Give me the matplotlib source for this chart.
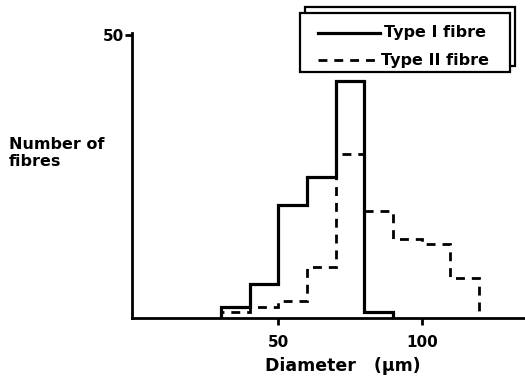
import matplotlib
matplotlib.use("Agg")
import matplotlib.pyplot as plt
from matplotlib.patches import Rectangle
from matplotlib.lines import Line2D

# Data
type1_edges = [30, 40, 50, 60, 70, 80, 90]
type1_counts = [2, 6, 20, 25, 42, 1]
type2_edges = [30, 40, 50, 60, 70, 80, 90, 100, 110, 120]
type2_counts = [1, 2, 3, 9, 29, 19, 14, 13, 7]
xticks = [50, 100]
yticks = [50]
legend_labels = ["Type I fibre", "Type II fibre"]

plt.rcParams['font.family'] = ['DejaVu Sans']
plt.rcParams['font.weight'] = 'bold'
fig = plt.figure(figsize=(5.25, 3.81), dpi=100)
ax = fig.add_axes([132/525, 1-318/381, 1-132/525, (318-33)/381])

ax.stairs(type1_counts, type1_edges, baseline=0, color='black', lw=2.3)
ax.stairs(type2_counts, type2_edges, baseline=0, color='black', lw=2.0,
          linestyle=(0, (3.2, 2.5)))

ax.set_xlim(-1, 136)
ax.set_ylim(0, 50.4)
for s in ['top', 'right']:
    ax.spines[s].set_visible(False)
for s in ['left', 'bottom']:
    ax.spines[s].set_linewidth(2)
ax.set_xticks(xticks)
ax.set_yticks(yticks)
ax.tick_params(axis='both', direction='out', width=2, length=5, labelsize=11)
ax.tick_params(axis='y', pad=1)
ax.tick_params(axis='x', pad=7)
ax.set_xlabel("Diameter   (μm)", fontsize=12.5, fontweight='bold', labelpad=5, x=0.537)

fig.text(9/525, 1-153/381, "Number of\nfibres", fontsize=11.5, ha='left', va='center',
         linespacing=1.1, fontweight='bold')

# Legend box with up-right offset outline
W, H = 525, 381
def fx(x): return x / W
def fy(y): return 1 - y / H
shadow = Rectangle((fx(305), fy(66)), fx(515) - fx(305), fy(7) - fy(66),
                   transform=fig.transFigure, facecolor='none', edgecolor='black', lw=1.6)
box = Rectangle((fx(300), fy(72)), fx(510) - fx(300), fy(13) - fy(72),
                transform=fig.transFigure, facecolor='white', edgecolor='black', lw=1.6)
fig.add_artist(shadow)
fig.add_artist(box)
fig.add_artist(Line2D([fx(318), fx(380)], [fy(33), fy(33)], transform=fig.transFigure,
                      color='black', lw=2.3))
fig.add_artist(Line2D([fx(318), fx(380)], [fy(60), fy(60)], transform=fig.transFigure,
                      color='black', lw=2.0, linestyle=(0, (3.2, 2.5))))
fig.text(fx(384), fy(33), legend_labels[0], fontsize=11.5, ha='left', va='center',
         fontweight='bold')
fig.text(fx(381), fy(60), legend_labels[1], fontsize=11.5, ha='left', va='center',
         fontweight='bold')

fig.savefig("out.png", dpi=100)
